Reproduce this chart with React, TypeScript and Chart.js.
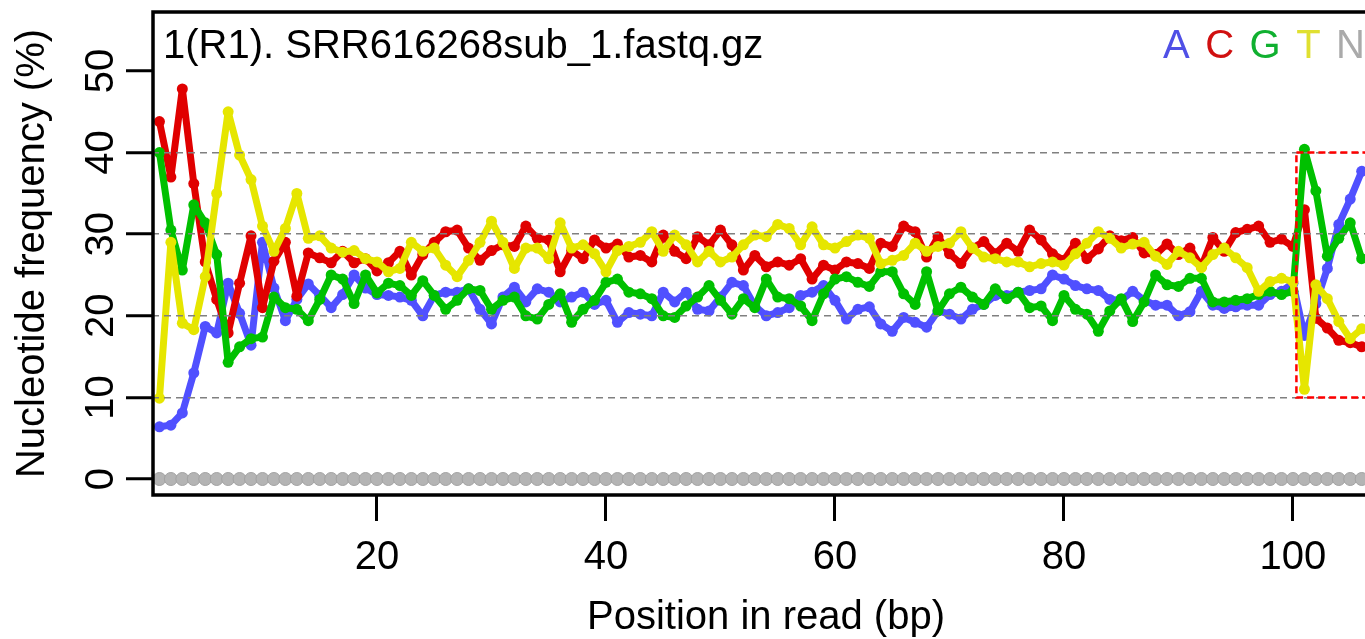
import { useEffect, useRef } from 'react';
import { Chart, registerables } from 'chart.js';

Chart.register(...registerables);

const POSITIONS = [
  1, 2, 3, 4, 5, 6, 7, 8, 9, 10, 11, 12, 13, 14, 15, 16, 17, 18, 19, 20,
  21, 22, 23, 24, 25, 26, 27, 28, 29, 30, 31, 32, 33, 34, 35, 36, 37, 38, 39, 40,
  41, 42, 43, 44, 45, 46, 47, 48, 49, 50, 51, 52, 53, 54, 55, 56, 57, 58, 59, 60,
  61, 62, 63, 64, 65, 66, 67, 68, 69, 70, 71, 72, 73, 74, 75, 76, 77, 78, 79, 80,
  81, 82, 83, 84, 85, 86, 87, 88, 89, 90, 91, 92, 93, 94, 95, 96, 97, 98, 99, 100,
  101, 102, 103, 104, 105, 106,
];

const A_FREQ = [
  6.4, 6.6, 8.1, 13.0, 18.7, 17.9, 24.0, 20.3, 16.4, 29.0,
  23.4, 19.4, 22.0, 23.9, 22.5, 21.0, 22.6, 25.0, 23.4, 22.6,
  22.5, 22.3, 21.9, 20.0, 22.5, 22.9, 22.9, 23.3, 20.8, 19.0,
  22.3, 23.5, 21.7, 23.3, 22.9, 21.7, 22.3, 22.9, 21.4, 21.9,
  19.2, 20.4, 20.2, 20.0, 22.9, 21.7, 22.9, 20.8, 20.6, 22.3,
  24.1, 23.7, 21.2, 20.0, 20.4, 21.0, 22.5, 22.9, 23.7, 21.9,
  19.6, 20.8, 21.1, 19.0, 18.1, 19.8, 19.2, 18.6, 20.6, 20.2,
  19.6, 20.8, 21.4, 22.5, 22.5, 22.9, 23.1, 23.3, 25.0, 24.5,
  23.7, 23.3, 23.1, 22.0, 21.9, 23.0, 21.9, 21.3, 21.3, 20.0,
  20.5, 23.0, 21.3, 20.9, 21.1, 21.3, 21.3, 22.6, 23.0, 24.0,
  17.6, 21.5, 25.8, 31.2, 34.3, 37.7,
];

const C_FREQ = [
  43.8, 37.0, 47.8, 36.2, 26.6, 22.0, 17.9, 24.0, 29.8, 21.0,
  26.7, 29.0, 22.4, 27.7, 27.1, 26.5, 27.9, 26.5, 27.0, 25.5,
  26.5, 27.9, 25.0, 27.5, 29.0, 30.3, 30.5, 28.3, 26.8, 28.0,
  28.7, 28.5, 31.0, 29.5, 29.3, 25.4, 28.0, 27.0, 29.3, 28.3,
  28.8, 27.2, 27.4, 26.6, 29.9, 27.9, 27.0, 29.7, 28.7, 30.5,
  28.7, 25.6, 27.4, 26.0, 26.6, 26.2, 27.0, 24.5, 26.2, 25.6,
  26.6, 26.4, 25.8, 28.9, 28.5, 31.0, 30.3, 27.2, 29.7, 27.6,
  26.4, 28.3, 29.1, 27.6, 28.9, 27.9, 30.5, 29.3, 27.6, 26.8,
  28.9, 27.0, 28.2, 29.8, 29.2, 29.6, 27.7, 27.5, 28.8, 27.5,
  28.3, 26.0, 29.6, 27.9, 30.2, 30.6, 31.0, 29.0, 29.4, 28.5,
  33.0, 19.7, 18.5, 17.0, 16.7, 16.2,
];

const G_FREQ = [
  40.0, 30.5, 25.6, 33.6, 31.4, 27.5, 14.3, 16.2, 17.2, 17.4,
  22.3, 21.0, 20.8, 19.4, 22.0, 25.0, 24.5, 21.5, 25.0, 22.8,
  24.0, 23.7, 22.5, 24.3, 22.5, 20.8, 21.9, 23.3, 23.1, 20.8,
  21.9, 22.3, 20.0, 19.6, 21.4, 22.7, 19.2, 20.8, 21.9, 24.1,
  24.5, 22.9, 22.7, 22.1, 20.0, 19.8, 21.2, 22.3, 23.7, 21.9,
  20.2, 22.1, 21.0, 24.5, 22.3, 22.1, 21.2, 19.4, 22.7, 24.5,
  24.8, 24.1, 23.6, 25.4, 25.4, 22.7, 21.4, 25.4, 20.6, 22.7,
  23.5, 22.3, 21.4, 23.3, 22.1, 22.9, 21.0, 21.2, 19.4, 22.5,
  20.8, 20.2, 18.1, 20.6, 22.1, 19.3, 21.7, 25.0, 23.8, 23.6,
  24.6, 24.6, 21.7, 21.7, 21.9, 22.1, 22.6, 23.0, 22.6, 23.0,
  40.4, 35.3, 27.3, 29.5, 31.4, 27.0,
];

const T_FREQ = [
  9.9, 29.0, 19.1, 18.3, 24.8, 35.0, 45.0, 39.7, 36.7, 31.0,
  27.9, 30.7, 35.0, 29.5, 29.8, 28.3, 27.8, 28.0, 27.0, 26.6,
  25.4, 25.8, 29.0, 27.9, 28.3, 26.2, 24.8, 26.8, 29.0, 31.6,
  29.0, 25.8, 28.3, 28.3, 27.0, 31.4, 28.3, 28.7, 27.6, 25.4,
  28.0, 28.5, 29.0, 30.3, 27.9, 29.9, 28.7, 26.6, 27.9, 26.6,
  27.2, 28.7, 29.9, 29.7, 31.2, 30.7, 28.7, 30.9, 28.7, 28.3,
  29.1, 29.9, 29.5, 26.4, 26.8, 27.4, 28.9, 27.9, 28.5, 28.9,
  30.3, 28.3, 27.2, 27.0, 26.6, 26.6, 26.0, 26.4, 26.6, 26.2,
  27.6, 28.9, 30.3, 29.5, 28.3, 28.8, 29.0, 27.3, 26.3, 27.9,
  27.1, 25.9, 27.5, 28.3, 27.1, 25.9, 23.0, 24.2, 24.6, 24.2,
  11.0, 23.8, 22.1, 19.3, 17.2, 18.4,
];

const N_FREQ = [
  0, 0, 0, 0, 0, 0, 0, 0, 0, 0, 0, 0, 0, 0, 0, 0, 0, 0, 0, 0,
  0, 0, 0, 0, 0, 0, 0, 0, 0, 0, 0, 0, 0, 0, 0, 0, 0, 0, 0, 0,
  0, 0, 0, 0, 0, 0, 0, 0, 0, 0, 0, 0, 0, 0, 0, 0, 0, 0, 0, 0,
  0, 0, 0, 0, 0, 0, 0, 0, 0, 0, 0, 0, 0, 0, 0, 0, 0, 0, 0, 0,
  0, 0, 0, 0, 0, 0, 0, 0, 0, 0, 0, 0, 0, 0, 0, 0, 0, 0, 0, 0,
  0, 0, 0, 0, 0, 0,
];

const SERIES_NAMES = ['A', 'C', 'G', 'T', 'N'];
const SERIES_COLORS = ['#5050ff', '#e00000', '#00c000', '#e6e600', '#b4b4b4'];
const LEGEND_COLORS = ['#5050e6', '#d01010', '#10b030', '#e0e030', '#aaaaaa'];
const X_TICKS = [20, 40, 60, 80, 100];
const Y_TICKS = [0, 10, 20, 30, 40, 50];
const Y_GRID = [10, 20, 30, 40];
const HIGHLIGHT_X = [100.3, 112];
const HIGHLIGHT_Y = [10, 40];
const PLOT_TITLE = '1(R1). SRR616268sub_1.fastq.gz';
const X_TITLE = 'Position in read (bp)';
const Y_TITLE = 'Nucleotide frequency (%)';

const FONT = '"Liberation Sans", Arial, Helvetica, sans-serif';

const decorPlugin = {
  id: 'decor',
  afterDraw(chart: any) {
    const { ctx, chartArea } = chart;
    const xs = chart.scales.x;
    const ys = chart.scales.y;
    ctx.save();

    // highlight box
    ctx.strokeStyle = '#ff0000';
    ctx.lineWidth = 2.5;
    ctx.setLineDash([7, 4]);
    const bx0 = xs.getPixelForValue(HIGHLIGHT_X[0]);
    const bx1 = xs.getPixelForValue(HIGHLIGHT_X[1]);
    const by0 = ys.getPixelForValue(HIGHLIGHT_Y[1]);
    const by1 = ys.getPixelForValue(HIGHLIGHT_Y[0]);
    ctx.strokeRect(bx0, by0, bx1 - bx0, by1 - by0);
    ctx.setLineDash([]);

    // plot box (left, top, bottom)
    ctx.strokeStyle = '#000';
    ctx.lineWidth = 3.5;
    ctx.beginPath();
    ctx.moveTo(chartArea.right + 5, chartArea.top);
    ctx.lineTo(chartArea.left + 1, chartArea.top);
    ctx.lineTo(chartArea.left + 1, chartArea.bottom);
    ctx.lineTo(chartArea.right + 5, chartArea.bottom);
    ctx.stroke();

    // title
    ctx.font = `40px ${FONT}`;
    ctx.textBaseline = 'alphabetic';
    ctx.textAlign = 'left';
    ctx.fillStyle = '#000';
    ctx.fillText(PLOT_TITLE, chartArea.left + 11, chartArea.top + 46);

    // legend letters
    let lx = 1163;
    SERIES_NAMES.forEach((name, i) => {
      ctx.fillStyle = LEGEND_COLORS[i];
      ctx.fillText(name, lx, chartArea.top + 46);
      lx += ctx.measureText(name).width + 15.5;
    });

    // x title
    ctx.fillStyle = '#000';
    ctx.textAlign = 'center';
    ctx.fillText(X_TITLE, 766, 629);
    ctx.restore();
  },
};

export default function App() {
  const canvasRef = useRef<HTMLCanvasElement | null>(null);

  useEffect(() => {
    const canvas = canvasRef.current;
    if (!canvas) return;
    const seriesValues = [A_FREQ, C_FREQ, G_FREQ, T_FREQ, N_FREQ];
    const datasets = SERIES_NAMES.map((name, si) => {
      const isN = name === 'N';
      return {
        label: name,
        data: POSITIONS.map((p, i) => ({ x: p, y: seriesValues[si][i] })),
        borderColor: SERIES_COLORS[si],
        backgroundColor: SERIES_COLORS[si],
        borderWidth: 7,
        borderJoinStyle: 'round',
        borderCapStyle: 'round',
        pointRadius: isN ? 6.5 : 5.5,
        pointHoverRadius: isN ? 6.5 : 5.5,
        pointBackgroundColor: SERIES_COLORS[si],
        pointBorderColor: isN ? '#a2a2a2' : SERIES_COLORS[si],
        pointBorderWidth: isN ? 1 : 0,
        tension: 0,
        fill: false,
        order: SERIES_NAMES.length - si,
      };
    });

    const chart = new Chart(canvas, {
      type: 'line',
      data: { datasets },
      plugins: [decorPlugin],
      options: {
        animation: false,
        responsive: false,
        devicePixelRatio: 1,
        events: [],
        layout: { padding: { top: 12, left: 0, right: 0, bottom: 0 }, autoPadding: false },
        plugins: { legend: { display: false }, tooltip: { enabled: false }, title: { display: false } },
        scales: {
          x: {
            type: 'linear',
            min: 0.35,
            max: 106.29,
            afterBuildTicks: (scale: any) => {
              scale.ticks = X_TICKS.map((v) => ({ value: v }));
            },
            afterFit: (scale: any) => {
              scale.height = 144;
              scale.paddingLeft = 0;
              scale.paddingRight = 0;
            },
            grid: {
              drawOnChartArea: false,
              drawTicks: true,
              tickLength: 26,
              tickColor: '#000',
              tickWidth: 3,
            },
            border: { display: false },
            ticks: {
              autoSkip: false,
              maxRotation: 0,
              minRotation: 0,
              padding: 12.5,
              color: '#000',
              font: { family: FONT, size: 40 },
              callback: (v: any) => String(v),
            },
          },
          y: {
            type: 'linear',
            min: -1.96,
            max: 57.23,
            afterBuildTicks: (scale: any) => {
              scale.ticks = Y_TICKS.map((v) => ({ value: v }));
            },
            afterFit: (scale: any) => {
              scale.width = 152;
              scale.paddingTop = 0;
              scale.paddingBottom = 0;
            },
            grid: {
              drawOnChartArea: true,
              drawTicks: true,
              tickLength: 26,
              tickColor: '#000',
              tickWidth: 3,
              lineWidth: 1.5,
              z: 1,
              color: (c: any) =>
                c.tick && Y_GRID.includes(c.tick.value) ? '#808080' : 'rgba(0,0,0,0)',
            },
            border: { display: false, dash: [7, 5] },
            title: {
              display: true,
              text: Y_TITLE,
              color: '#000',
              font: { family: FONT, size: 40 },
              padding: { top: 9, bottom: 0 },
            },
            ticks: {
              autoSkip: false,
              minRotation: 90,
              maxRotation: 90,
              crossAlign: 'center',
              padding: 2,
              color: '#000',
              font: { family: FONT, size: 40, lineHeight: 0.5 },
              callback: (v: any) => String(v),
            },
          },
        },
      } as any,
    });
    return () => chart.destroy();
  }, []);

  return (
    <div style={{ position: 'absolute', left: 0, top: 0, width: 1365, height: 639, background: '#fff' }}>
      <canvas ref={canvasRef} width={1365} height={639} style={{ display: 'block', width: 1365, height: 639 }} />
    </div>
  );
}
